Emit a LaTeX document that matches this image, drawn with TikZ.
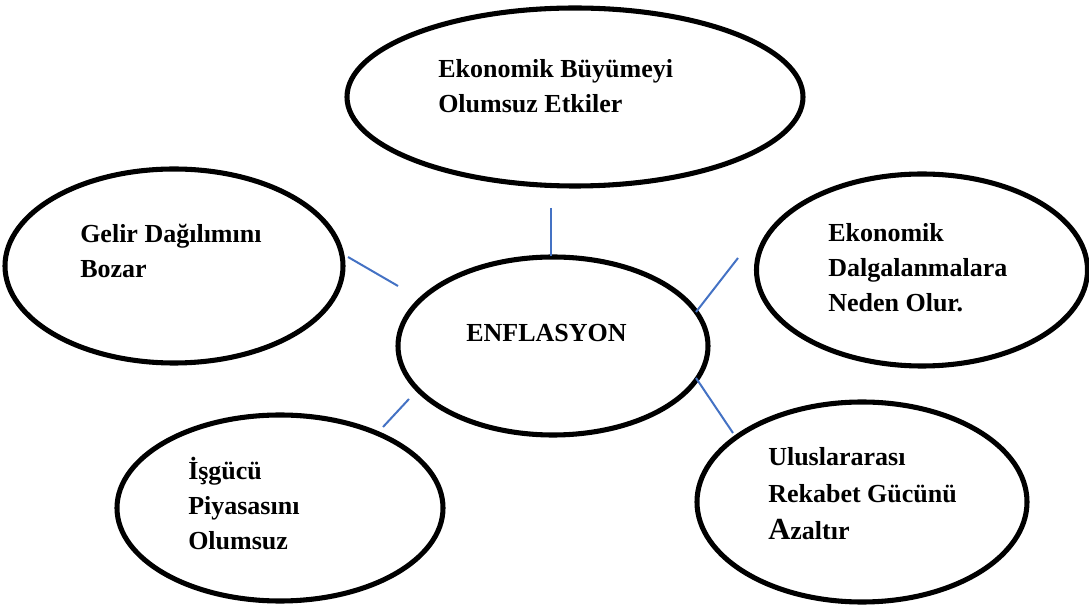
\documentclass[tikz,border=0pt]{standalone}
\usepackage{fontspec}
\setmainfont{Liberation Serif}
\usetikzlibrary{shapes.geometric}
\definecolor{linkblue}{RGB}{68,114,196}
\begin{document}
\begin{tikzpicture}[x=0.75pt,y=-0.75pt,
  bub/.style={draw=black, line width=3.8pt, ellipse, inner sep=0pt},
  lbl/.style={anchor=base west, inner sep=0pt, font=\fontsize{19.5}{24}\selectfont\bfseries},
  link/.style={draw=linkblue, line width=1.5pt}]
\useasboundingbox (0,0) rectangle (1089,605);
% ellipses
\node[bub, minimum width=342pt, minimum height=133.5pt] (top) at (575,97) {};
\node[bub, minimum width=253.5pt, minimum height=145.5pt] (left) at (174,266) {};
\node[bub, minimum width=232.5pt, minimum height=133.5pt] (center) at (553,346) {};
\node[bub, minimum width=248.25pt, minimum height=144pt] (right) at (922,270) {};
\node[bub, minimum width=247.5pt, minimum height=150pt] (bright) at (862,502) {};
\node[bub, minimum width=244.5pt, minimum height=139.5pt] (bleft) at (280,508) {};
% texts
\node[lbl] (t1) at (438,78) {Ekonomik Büyümeyi};
\node[lbl] (t2) at (438,113) {Olumsuz Etkiler};
\node[lbl] (l1) at (80,243) {Gelir Dağılımını};
\node[lbl] (l2) at (80,278) {Bozar};
\node[lbl] (c1) at (466,342) {ENFLASYON};
\node[lbl] (r1) at (828,242) {Ekonomik};
\node[lbl] (r2) at (828,277) {Dalgalanmalara};
\node[lbl] (r3) at (828,312) {Neden Olur.};
\node[lbl] (br1) at (768,466) {Uluslararası};
\node[lbl] (br2) at (768,503) {Rekabet Gücünü};
\node[lbl] (br3) at (768,540) {{\fontsize{23}{24}\selectfont A}zaltır};
\node[lbl] (bl1) at (188,480) {İşgücü};
\node[lbl] (bl2) at (188,515) {Piyasasını};
\node[lbl] (bl3) at (188,550) {Olumsuz};
% connector ends
\coordinate (a1) at (551,208); \coordinate (a2) at (551,256);
\coordinate (b1) at (348,257); \coordinate (b2) at (398,286);
\coordinate (c1e) at (738,258); \coordinate (c2e) at (696,312);
\coordinate (d1) at (409,399); \coordinate (d2) at (383,427);
\coordinate (e1) at (696,378); \coordinate (e2) at (733,433);
\draw[link] (a1) -- (a2);
\draw[link] (b1) -- (b2);
\draw[link] (c1e) -- (c2e);
\draw[link] (d1) -- (d2);
\draw[link] (e1) -- (e2);
\end{tikzpicture}
\end{document}
